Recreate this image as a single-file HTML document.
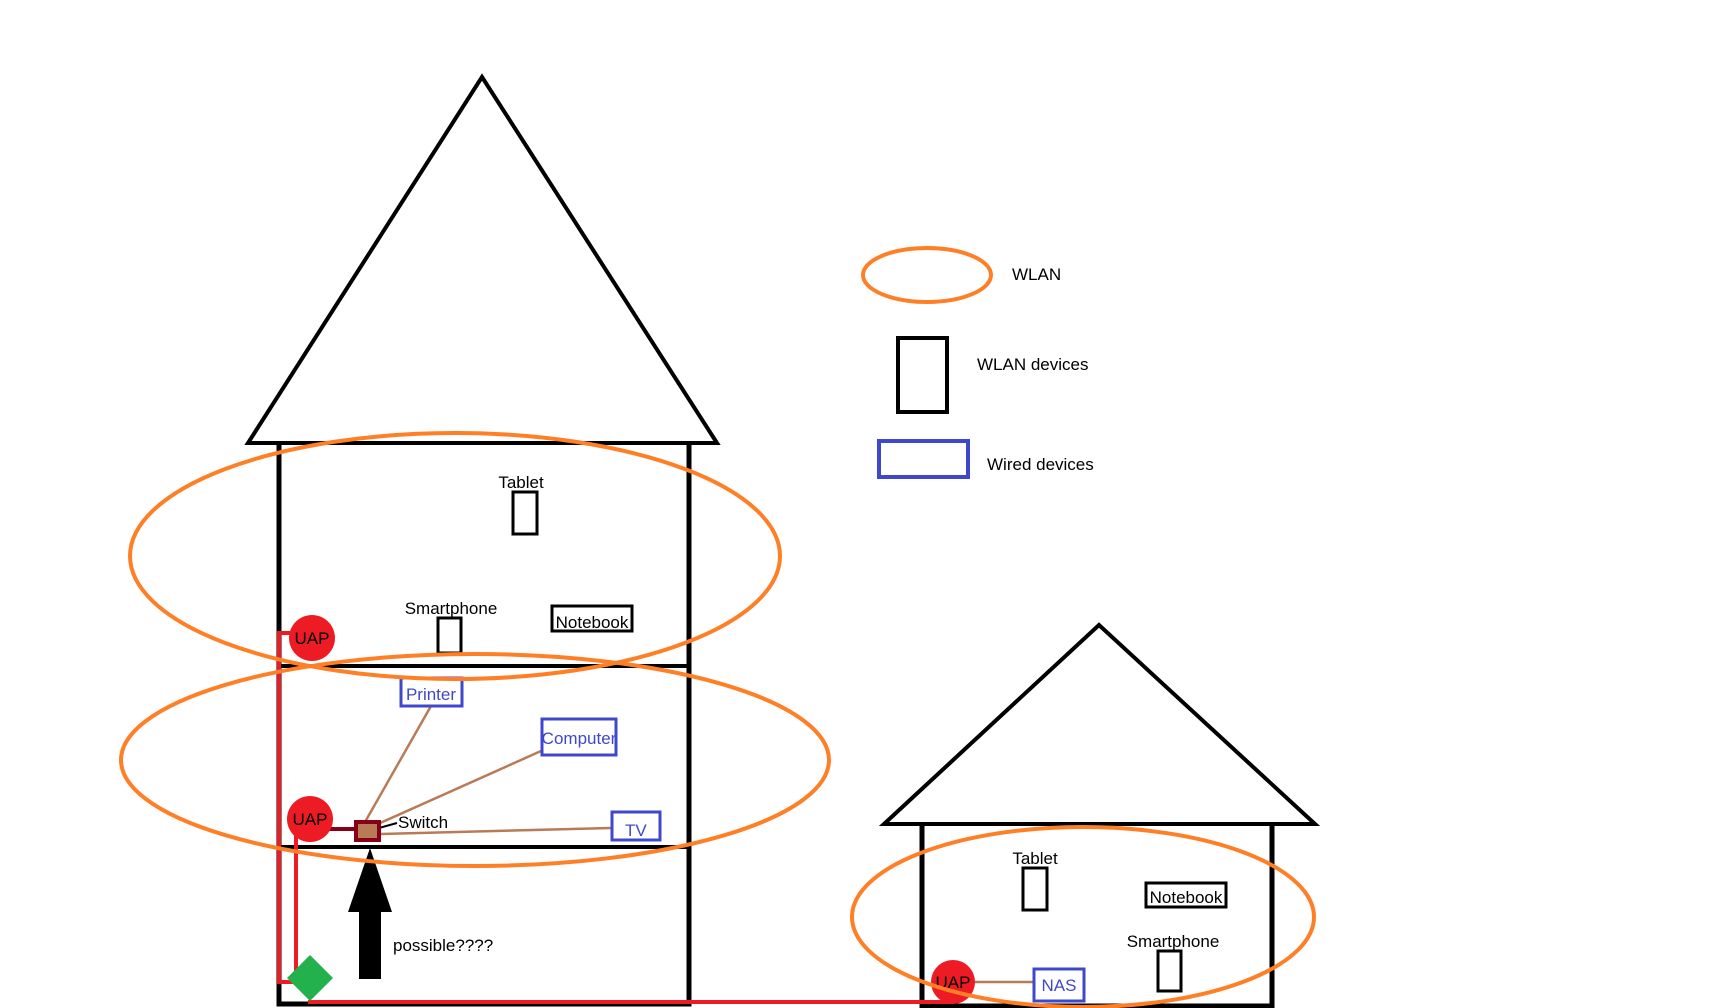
<!DOCTYPE html>
<html><head><meta charset="utf-8"><style>html,body{margin:0;padding:0;background:#fff}svg{display:block}</style></head>
<body>
<svg width="1716" height="1008" viewBox="0 0 1716 1008" xmlns="http://www.w3.org/2000/svg" font-family="Liberation Sans, sans-serif" font-size="17">
<rect width="1716" height="1008" fill="#fff"/>
<!-- tall house -->
<polygon points="482,77 717,443 248,443" fill="none" stroke="#000" stroke-width="4"/>
<polyline points="279,443 279,1004 689,1004 689,443" fill="none" stroke="#000" stroke-width="5"/>
<line x1="279" y1="666" x2="689" y2="666" stroke="#000" stroke-width="4"/>
<line x1="279" y1="847" x2="689" y2="847" stroke="#000" stroke-width="4"/>
<!-- small house -->
<polygon points="1099,625 1315,824 884,824" fill="none" stroke="#000" stroke-width="4"/>
<polyline points="922,824 922,1006 1272,1006 1272,824" fill="none" stroke="#000" stroke-width="5"/>
<!-- red cables -->
<polyline points="312,633 279,633 279,982 300,982" fill="none" stroke="#ed1c24" stroke-width="4"/>
<polyline points="296,830 296,975 310,975" fill="none" stroke="#ed1c24" stroke-width="4"/>
<line x1="308" y1="1002" x2="953" y2="1002" stroke="#ed1c24" stroke-width="4"/>
<line x1="310" y1="829" x2="356" y2="829" stroke="#880015" stroke-width="4"/>
<!-- brown wires -->
<g stroke="#b97a57" stroke-width="2.5" fill="none">
<line x1="365" y1="822" x2="431" y2="706"/>
<line x1="378" y1="824" x2="541" y2="751"/>
<line x1="381" y1="834" x2="611" y2="828"/>
<line x1="953" y1="982" x2="1033" y2="982"/>
</g>
<line x1="379" y1="828" x2="397" y2="823" stroke="#000" stroke-width="2"/>
<!-- switch -->
<rect x="356" y="822" width="23" height="18" fill="#b97a57" stroke="#880015" stroke-width="4"/>
<!-- arrow -->
<polygon points="370,848 392,912 381,912 381,979 359,979 359,912 348,912" fill="#000"/>
<!-- diamond -->
<polygon points="310,955 333,978 310,1001 287,978" fill="#22b14c"/>
<!-- UAPs -->
<circle cx="312" cy="638" r="23" fill="#ed1c24"/>
<circle cx="310" cy="819" r="23" fill="#ed1c24"/>
<circle cx="953" cy="982" r="22" fill="#ed1c24"/>
<text x="312" y="644" text-anchor="middle">UAP</text>
<text x="310" y="825" text-anchor="middle">UAP</text>
<text x="953" y="988" text-anchor="middle">UAP</text>
<!-- wlan devices -->
<g fill="none" stroke="#000" stroke-width="3">
<rect x="513" y="492" width="24" height="42"/>
<rect x="438" y="618" width="23" height="35"/>
<rect x="552" y="606" width="80" height="25"/>
<rect x="1023" y="868" width="24" height="42"/>
<rect x="1146" y="883" width="80" height="24"/>
<rect x="1158" y="951" width="23" height="40"/>
<rect x="898" y="338" width="49" height="74" stroke-width="4"/>
</g>
<text x="521" y="488" text-anchor="middle">Tablet</text>
<text x="451" y="614" text-anchor="middle">Smartphone</text>
<text x="592" y="628" text-anchor="middle">Notebook</text>
<text x="1035" y="864" text-anchor="middle">Tablet</text>
<text x="1186" y="903" text-anchor="middle">Notebook</text>
<text x="1173" y="947" text-anchor="middle">Smartphone</text>
<!-- wired devices -->
<g fill="none" stroke="#3f48cc" stroke-width="3">
<rect x="401" y="678" width="61" height="28"/>
<rect x="542" y="719" width="74" height="36"/>
<rect x="612" y="812" width="48" height="28"/>
<rect x="1034" y="969" width="50" height="32"/>
<rect x="879" y="441" width="89" height="36" stroke-width="4"/>
</g>
<g fill="#3f48cc">
<text x="431" y="700" text-anchor="middle">Printer</text>
<text x="579" y="744" text-anchor="middle">Computer</text>
<text x="625" y="836">TV</text>
<text x="1059" y="991" text-anchor="middle">NAS</text>
</g>
<text x="398" y="828">Switch</text>
<text x="393" y="951">possible????</text>
<!-- ellipses -->
<g fill="none" stroke="#ff7f27" stroke-width="4">
<ellipse cx="455" cy="556" rx="325" ry="123"/>
<ellipse cx="475" cy="760" rx="354" ry="106"/>
<ellipse cx="1083" cy="917" rx="231" ry="90"/>
<ellipse cx="927" cy="275" rx="64" ry="27"/>
</g>
<!-- legend -->
<text x="1012" y="280">WLAN</text>
<text x="977" y="370">WLAN devices</text>
<text x="987" y="470">Wired devices</text>
</svg>
</body></html>
